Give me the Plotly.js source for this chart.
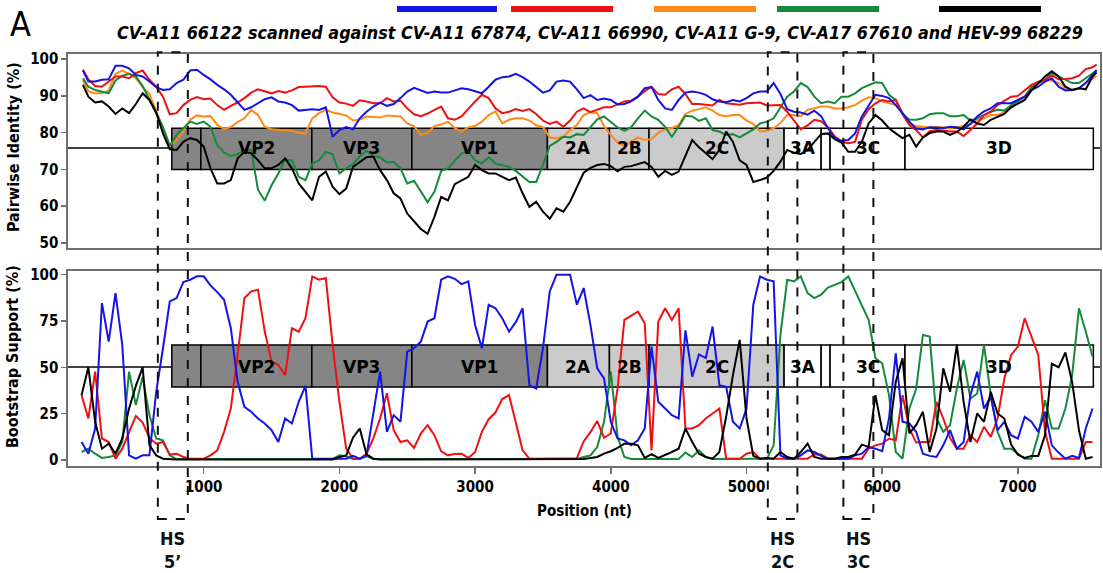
<!DOCTYPE html>
<html><head><meta charset="utf-8">
<script src="https://cdn.plot.ly/plotly-3.0.1.min.js"></script>
<style>html,body{margin:0;padding:0;background:#fff;}#chart{width:1103px;height:573px;}</style>
</head><body><div id="chart"></div>
<script>
// ---------- series ----------
const seriesNames = ['CV-A11 67874', 'CV-A11 66990', 'CV-A11 G-9', 'CV-A17 67610', 'HEV-99 68229'];
const seriesColors = ['#1414e6', '#ee1111', '#ff8a14', '#158a3c', '#000000'];

// Pairwise identity (%) – top panel
const identityPos = [110,150,200,250,300,350,400,450,500,550,600,650,700,750,800,850,900,950,
  1000,1050,1100,1150,1200,1250,1300,1350,1400,1450,1500,1550,1600,1650,1700,1750,1800,1850,1900,1950,
  2000,2050,2100,2150,2200,2250,2300,2350,2400,2450,2500,2550,2600,2650,2700,2750,2800,2850,2900,2950,
  3000,3050,3100,3150,3200,3250,3300,3350,3400,3450,3500,3550,3600,3650,3700,3750,3800,3850,3900,3950,
  4000,4050,4100,4150,4200,4250,4300,4350,4400,4450,4500,4550,4600,4650,4700,4750,4800,4850,4900,4950,
  5000,5050,5100,5150,5200,5250,5300,5350,5400,5450,5500,5550,5600,5650,5700,5750,5800,5850,5900,5950,
  6000,6050,6100,6150,6200,6250,6300,6350,6400,6450,6500,6550,6600,6650,6700,6750,6800,6850,6900,6950,
  7000,7050,7100,7150,7200,7250,7300,7350,7400,7450,7500,7550,7580];
const identityBlue = [96.9,93.9,93.9,94.4,94.5,98.2,98.2,97.5,95.7,95.3,93.9,92.4,91.6,91.8,93.5,94.4,96.9,97.1,
  95.7,94.5,93.0,91.8,90.3,88.2,86.2,86.9,88.0,89.1,89.6,88.5,88.2,87.5,86.0,86.2,86.4,86.2,86.9,78.9,
  80.7,81.5,80.9,83.9,85.7,87.1,88.2,87.3,87.8,89.4,91.2,92.2,91.6,90.8,91.2,90.9,90.9,91.6,92.1,91.8,
  91.2,90.7,92.5,94.4,95.1,95.3,96.0,95.1,93.9,92.4,90.9,91.5,93.9,94.2,93.9,91.8,89.4,90.2,88.9,89.3,
  88.9,87.7,87.8,88.5,89.8,92.1,92.4,88.9,86.6,86.2,88.9,90.9,91.2,90.9,90.3,89.1,88.5,88.3,88.9,88.5,
  89.4,90.7,91.2,91.2,93.5,90.5,86.4,85.7,85.5,84.9,86.0,84.5,81.2,78.6,77.8,78.0,79.8,84.4,87.5,90.3,
  90.0,89.4,87.5,85.1,83.0,81.1,80.9,81.5,81.5,81.3,81.6,81.5,80.9,82.4,84.4,85.8,86.6,88.0,88.0,88.0,
  88.9,89.8,91.6,92.5,93.9,94.8,92.5,91.5,91.6,92.1,93.5,95.7,97.1];
const identityRed = [97.1,94.5,92.7,92.5,93.9,95.3,95.3,94.8,96.2,96.9,94.4,92.5,89.8,85.0,85.3,87.5,88.9,89.7,
  89.1,89.3,87.5,86.2,87.3,88.2,89.4,90.9,91.8,91.2,90.7,91.3,90.9,91.5,92.4,92.5,92.7,92.7,92.5,89.6,
  88.2,87.9,87.3,88.8,88.5,88.0,88.0,89.4,88.5,88.7,86.6,85.0,84.5,85.2,86.2,87.1,83.9,83.5,84.4,86.6,
  88.5,90.3,89.4,86.6,85.3,85.7,86.4,85.9,86.4,85.1,83.3,82.4,83.0,81.6,83.3,85.7,86.6,85.6,86.2,86.9,
  86.9,87.8,88.5,88.7,89.8,91.3,92.5,90.5,90.3,91.8,92.5,90.5,87.8,87.8,87.5,87.4,88.9,88.0,87.8,87.6,
  88.0,88.0,88.2,87.4,87.5,87.5,85.7,83.4,80.9,82.0,83.5,83.1,81.5,79.0,77.5,77.1,77.5,83.5,86.4,88.0,
  88.9,88.5,88.9,85.0,82.1,80.7,78.7,80.4,80.7,80.6,80.3,80.3,79.1,80.7,82.5,84.7,85.7,87.5,88.7,89.8,
  90.0,91.4,93.0,93.9,94.4,95.6,94.5,94.6,94.8,95.5,97.3,97.8,98.5];
const identityOrange = [94.4,91.2,90.7,90.7,91.5,96.0,96.9,96.0,94.8,92.4,90.5,85.7,81.2,76.6,78.0,80.5,83.5,84.7,
  84.4,84.5,82.1,81.0,81.5,82.9,83.9,86.2,84.8,81.6,80.9,80.7,80.7,80.5,80.0,79.8,83.9,85.3,86.2,85.5,
  85.1,84.7,83.3,83.5,84.4,84.2,84.1,84.7,84.5,84.4,82.5,81.8,79.4,80.0,81.8,82.2,83.0,81.2,80.3,81.5,
  81.8,83.0,84.8,85.8,82.5,83.5,83.9,83.9,83.3,82.0,81.5,78.7,78.5,78.9,80.7,82.1,84.8,85.6,85.3,81.8,
  79.4,77.3,76.4,77.5,78.7,78.0,78.2,80.0,80.9,81.2,82.1,85.1,86.0,86.4,86.9,86.0,84.8,84.5,84.8,84.8,
  83.3,82.4,80.3,80.5,81.2,82.6,84.8,84.8,84.5,86.2,86.6,87.1,87.1,86.6,86.6,86.9,87.5,88.7,89.6,89.4,
  88.5,88.0,87.5,85.5,82.4,81.8,81.5,81.4,81.6,81.4,81.2,81.5,81.8,82.2,83.5,83.9,84.8,84.8,85.5,87.3,
  88.9,89.8,92.1,93.5,94.4,94.1,93.5,92.2,91.5,92.0,93.7,94.7,95.5];
const identityGreen = [94.8,92.5,91.6,91.2,90.7,94.2,95.5,96.0,95.3,92.7,88.9,85.3,81.6,76.4,79.4,81.2,83.0,82.4,
  83.0,81.6,76.6,74.6,73.6,74.2,75.3,75.3,64.5,61.5,65.7,68.9,72.7,72.5,68.0,67.1,71.6,72.5,74.8,74.1,
  68.9,70.3,71.5,73.5,75.1,73.6,73.3,71.9,72.1,70.3,66.2,66.9,63.9,61.1,63.9,69.6,70.3,72.5,74.4,74.8,
  72.5,71.6,73.3,71.6,71.2,70.7,69.6,68.0,66.6,66.6,71.2,76.4,77.5,78.9,78.7,79.6,79.4,81.5,83.6,84.4,
  83.0,81.4,80.5,81.5,83.9,86.0,84.4,83.5,81.6,78.9,81.6,84.6,84.4,83.2,83.9,80.7,80.3,79.4,79.6,78.7,
  79.8,80.9,82.5,83.0,83.9,87.0,89.8,91.2,93.5,92.4,89.8,88.0,88.5,88.0,89.8,89.8,90.7,92.1,93.0,93.7,
  93.5,90.3,88.9,85.1,83.6,83.5,83.9,85.0,85.3,85.3,84.5,84.5,84.8,83.3,83.9,84.8,85.7,86.2,86.0,87.5,
  88.5,89.8,92.4,93.5,94.4,96.2,95.3,94.4,93.5,93.5,94.8,96.0,96.9];
const identityBlack = [93.0,89.8,88.2,88.5,87.1,85.1,86.6,85.3,87.8,90.7,88.9,85.5,79.8,75.5,75.3,77.5,78.5,78.0,
  76.2,70.3,66.2,66.2,67.1,73.0,74.8,74.4,72.5,70.3,70.3,71.2,73.0,70.3,66.2,63.9,61.6,68.0,69.4,65.3,
  63.3,64.8,70.7,72.0,73.3,73.5,69.8,67.1,63.5,62.1,58.0,55.9,53.8,52.5,57.1,62.5,61.6,66.0,67.1,68.0,
  71.2,69.8,68.9,68.9,68.0,67.1,67.8,63.5,59.8,61.2,58.5,56.6,59.4,58.5,61.2,65.3,69.1,70.4,71.2,71.5,
  70.9,69.5,70.7,70.9,71.4,72.0,70.7,68.0,69.6,68.5,69.4,73.6,78.0,76.0,74.4,72.8,75.3,80.3,77.5,72.5,
  71.2,66.6,67.1,67.8,69.6,72.1,75.3,74.5,74.2,75.3,77.5,79.6,79.8,78.2,77.3,74.8,74.8,77.5,82.5,84.8,
  83.3,81.2,79.8,78.5,79.4,76.2,78.7,79.9,80.3,80.3,79.4,80.2,81.6,83.6,82.5,82.1,83.5,84.4,85.1,86.9,
  88.0,88.9,91.5,93.5,95.3,96.7,95.3,92.5,91.6,92.1,91.8,95.3,96.4];

// Bootstrap support (%) – bottom panel
const bootPos = [100,150,200,250,300,350,400,450,500,550,600,650,700,750,800,850,900,950,
  1000,1050,1100,1150,1200,1250,1300,1350,1400,1450,1500,1550,1600,1650,1700,1750,1800,1850,1900,1950,
  2000,2050,2100,2150,2200,2250,2300,2350,2400,2450,2500,2550,2600,2650,2700,2750,2800,2850,2900,2950,
  3000,3050,3100,3150,3200,3250,3300,3350,3400,3450,3500,3550,3600,3650,3700,3750,3800,3850,3900,3950,
  4000,4050,4100,4150,4200,4250,4300,4350,4400,4450,4500,4550,4600,4650,4700,4750,4800,4850,4900,4950,
  5000,5050,5100,5150,5200,5250,5300,5350,5400,5450,5500,5550,5600,5650,5700,5750,5800,5850,5900,5950,
  6000,6050,6100,6150,6200,6250,6300,6350,6400,6450,6500,6550,6600,6650,6700,6750,6800,6850,6900,6950,
  7000,7050,7100,7150,7200,7250,7300,7350,7400,7450,7500,7550];
const bootBlue = [9.7,3.4,17,84.7,63.9,90.1,62.1,2.5,0.7,2.5,2.5,36.8,60.3,85.6,87.4,96,97.3,99.1,
  99.1,94.2,90.6,86.5,71.1,42.2,28.7,26,22.4,19.7,16.1,9.7,22.4,19.7,31.4,40,0.7,0.7,0.7,0.7,
  0.7,0.7,2.2,0.7,2.5,26,47.7,15.2,24.2,20.6,58.5,60.3,63.9,74.7,76.5,97.3,99.1,97.8,94.9,96.4,
  72.9,60.3,83.8,81.9,76.5,69.3,74.4,81.9,40.4,38.6,60.3,91,100,100,100,83.8,92.8,72.9,49.5,44,
  20.6,11.6,10.6,7.9,10.6,17,61.2,31.4,27.8,24.2,22.4,70,45,57,55,72,40.4,39.5,20.6,17,
  27.8,83.8,99.1,97.3,96.4,2.5,0.7,0.7,2.5,5.2,4.3,2.2,0.7,0.7,0.7,0.7,2.5,3.4,7,6.1,
  4.7,22.4,57.6,20.6,19.7,15.2,3.4,2.2,1.6,7.9,16.1,6.1,9.7,35,47.7,27.8,34.1,16.1,20.6,13.4,
  11.6,23.3,20.6,15.2,26,7.9,4,0.7,2.2,1.1,17,27.8];
const bootRed = [35,22.4,47.7,11.6,9.7,0.7,6.1,15.2,23.8,20.2,11.9,8.8,9.7,2.9,3.4,1.6,0.7,0.7,
  0.7,2.5,5.2,15.2,27.8,56.7,87.4,91,91.9,69.3,53.1,51.3,45.8,71.1,69.3,76.5,99.1,97.3,98.2,62.1,
  31.4,6.1,0.7,0.7,3.4,11.6,22.4,36,16.1,9.7,10.6,6.5,14.3,18.8,13.4,4.7,2.5,3.2,3.4,1.1,
  4.3,15.2,22,25.6,32.9,35,19.7,5.2,0.7,0.7,0.7,0.7,0.7,0.7,0.7,1,10,15,21,12,
  14.3,38.6,75.6,78,80.1,73.8,5.2,74.7,81.9,75.6,81.9,17,17,18.8,22.4,25.1,27.8,0.7,0.7,0.7,
  3.4,4.3,0.7,0.7,0.7,0.7,0.7,0.7,0.7,0.7,3,2.9,0.7,0.7,0.7,0.7,0.7,0.7,6.1,7.9,
  8.8,11.6,10.6,35,17,9.4,9.7,9.7,31.4,22.4,11.9,6.1,6.1,13.4,9.7,17.9,12.5,22.4,44,56.7,
  61.2,76.5,66.6,56.7,15.2,0.7,0.7,0.7,1.1,0.7,9.7,9.7];
const bootGreen = [4.3,6.1,3.4,1.1,1.6,2.5,9.7,47.7,29.6,45,24.2,11.6,10.6,2.5,0.5,0.5,0.5,0.5,
  0.5,0.5,0.5,0.5,0.5,0.5,0.5,0.5,0.5,0.5,0.5,0.5,0.5,0.5,0.5,0.5,0.5,0.5,0.5,0.5,
  2.5,2,0.5,0.5,2,0.5,0.5,0.5,0.5,0.5,0.5,0.5,0.5,0.5,0.5,0.5,0.5,0.5,0.5,0.5,
  0.5,0.5,0.5,0.5,0.5,0.5,0.5,0.5,0.5,0.5,0.5,0.5,0.5,0.5,0.5,0.5,1.6,2.5,7,20.6,
  47.7,12.5,1.6,0.5,0.5,0.5,0.5,0.5,0.5,0.5,0.5,4,1.6,5.2,1.6,0.5,0.5,0.5,0.5,0.5,
  0.5,0.5,0.5,0.7,7.9,67.5,97.3,96.4,99.1,90.1,87.4,89.2,93.1,94.6,96,99.1,91,82.9,75.6,54.9,
  52.2,35,4.3,0.7,27.8,38.3,67.5,66.6,22.4,15.2,18.8,38.6,54,33.2,35.9,62.1,35,15.2,6.1,6.1,
  3.4,0.7,0.7,13.4,32.3,17,17,27.8,45.8,81.9,69.3,55.8];
const bootBlack = [35,50,20.6,6.1,8.8,3.4,11.6,27.8,40,50,8,2.5,0.7,0.3,0.3,0.3,0.3,0.3,
  0.3,0.3,0.3,0.3,0.3,0.3,0.3,0.3,0.3,0.3,0.3,0.3,0.3,0.3,0.3,0.3,0.3,0.3,0.3,0.3,
  1.6,2.5,12,17,3,0.7,0.3,0.3,0.3,0.3,0.3,0.3,0.3,0.3,0.3,0.3,0.3,0.3,0.3,0.3,
  0.3,0.3,0.3,0.3,0.3,0.3,0.3,0.3,0.3,0.3,0.3,0.3,0.3,0.3,0.3,0.3,0.5,1.1,1.6,3.4,
  4.7,6.5,8.8,8.8,7.9,1.1,3.1,1.1,2.5,4.3,6.1,17,9.7,3.4,1.6,0.7,4.3,23.3,45.8,64.8,
  22.4,2.2,0.7,1.1,0.7,4.3,1.6,0.7,4.3,8.8,1.6,0.7,0.7,0.7,1.6,1.6,2.9,8.3,7,35,
  16.1,13.4,42.2,54.9,14.3,18.8,26,4.3,17,49.5,36.8,62.1,31.4,9.7,25.1,20.6,36.8,25.1,22.4,8.3,
  2.9,1.1,2.2,2.2,13.4,52,50,58,42,16,0.7,1.6];

// Genome map
const geneNames  = ['VP4','VP2','VP3','VP1','2A','2B','2C','3A','3B','3C','3D'];
const geneLabels = ['','VP2','VP3','VP1','2A','2B','2C','3A','','3C','3D'];
const geneStart  = [765,979,1797,2534,3533,3990,4282,5277,5550,5616,6168];
const geneEnd    = [979,1797,2534,3533,3990,4282,5277,5550,5616,6168,7556];
const geneRegion = ['P1','P1','P1','P1','P2','P2','P2','P3','P3','P3','P3'];

// Hot-spot windows
const hsStart  = [662,5157,5714];
const hsEnd    = [883,5375,5935];
const hsLabels = ['HS<br>5’','HS<br>2C','HS<br>3C'];

const titleText = 'CV-A11 66122 scanned against CV-A11 67874, CV-A11 66990, CV-A11 G-9, CV-A17 67610 and HEV-99 68229';

// ---------- build ----------
const COND = '"DejaVu Sans Condensed", "Liberation Sans Narrow", "DejaVu Sans", sans-serif';
const idSeries = [identityBlue, identityRed, identityOrange, identityGreen, identityBlack];
const bsSeries = [bootBlue, bootRed, null, bootGreen, bootBlack];
const drawOrder = [2, 3, 1, 0, 4];

const traces = [];
drawOrder.forEach(i => {
  traces.push({x: identityPos, y: idSeries[i], type: 'scatter', mode: 'lines', name: seriesNames[i],
    xaxis: 'x', yaxis: 'y', line: {color: seriesColors[i], width: 2}, showlegend: false, hoverinfo: 'skip'});
});
drawOrder.forEach(i => {
  if (!bsSeries[i]) return;
  traces.push({x: bootPos, y: bsSeries[i], type: 'scatter', mode: 'lines', name: seriesNames[i],
    xaxis: 'x2', yaxis: 'y2', line: {color: seriesColors[i], width: 2}, showlegend: false, hoverinfo: 'skip'});
});

const regionFill = {P1: '#858585', P2: '#cbcbcb', P3: '#ffffff'};
const shapes = [];
const annotations = [];
const panels = [
  {yref: 'y', mid: 75.8, lo: 70.0, hi: 81.2},
  {yref: 'y2', mid: 50.2, lo: 39.4, hi: 62.1}
];
panels.forEach(p => {
  shapes.push({type: 'line', xref: 'paper', yref: p.yref, x0: 0, x1: 1, y0: p.mid, y1: p.mid,
    line: {color: '#000', width: 1.5}, layer: 'below'});
  geneNames.forEach((g, k) => {
    shapes.push({type: 'rect', xref: 'x', yref: p.yref, x0: geneStart[k], x1: geneEnd[k], y0: p.lo, y1: p.hi,
      fillcolor: regionFill[geneRegion[k]], line: {color: '#000', width: 1.5}, layer: 'below'});
    if (geneLabels[k]) {
      annotations.push({xref: 'x', yref: p.yref, x: (geneStart[k] + geneEnd[k]) / 2, y: p.mid,
        text: geneLabels[k], showarrow: false, xanchor: 'center', yanchor: 'middle',
        font: {family: '"DejaVu Sans", sans-serif', size: 17, color: '#000', weight: 'bold'}});
    }
  });
});
hsStart.forEach((s, k) => {
  shapes.push({type: 'rect', xref: 'x', yref: 'paper', x0: s, x1: hsEnd[k], y0: -0.1286, y1: 1.004,
    line: {color: '#111', width: 2, dash: 'dash'}, fillcolor: 'rgba(0,0,0,0)'});
  annotations.push({xref: 'x', yref: 'paper', x: (s + hsEnd[k]) / 2, y: -0.2027, text: hsLabels[k],
    showarrow: false, xanchor: 'center', yanchor: 'middle', align: 'center',
    font: {family: COND, size: 18, color: '#111', weight: 'bold'}});
});
const legendPx = [[397,497],[511,613],[654,756],[777,879],[939,1041]];
legendPx.forEach((p, i) => {
  shapes.push({type: 'line', xref: 'paper', yref: 'paper', x0: (p[0] - 68) / 1032, x1: (p[1] - 68) / 1032,
    y0: 1.109, y1: 1.109, line: {color: seriesColors[i], width: 6}});
});
annotations.push({xref: 'paper', yref: 'paper', x: 0.5155, y: 1.051, text: titleText, showarrow: false,
  xanchor: 'center', yanchor: 'middle', font: {family: COND, size: 17.8, color: '#000', weight: 'bold', style: 'italic'}});
annotations.push({xref: 'paper', yref: 'paper', x: -0.0465, y: 1.072, text: 'A', showarrow: false,
  xanchor: 'center', yanchor: 'middle', font: {family: COND, size: 34, color: '#000'}});
annotations.push({xref: 'paper', yref: 'paper', x: -0.053, y: 0.775, text: 'Pairwise Identity (%)', showarrow: false,
  textangle: -90, xanchor: 'center', yanchor: 'middle', font: {family: COND, size: 16, color: '#000', weight: 'bold'}});
annotations.push({xref: 'paper', yref: 'paper', x: -0.053, y: 0.265, text: 'Bootstrap Support (%)', showarrow: false,
  textangle: -90, xanchor: 'center', yanchor: 'middle', font: {family: COND, size: 16, color: '#000', weight: 'bold'}});
annotations.push({xref: 'paper', yref: 'paper', x: 0.5, y: -0.109, text: 'Position (nt)', showarrow: false,
  xanchor: 'center', yanchor: 'middle', font: {family: COND, size: 15, color: '#000', weight: 'bold'}});

const tickFont = {family: COND, size: 15, color: '#000', weight: 'bold'};
const axisCommon = {showline: true, mirror: true, linecolor: '#707070', linewidth: 1.6, showgrid: false, zeroline: false};
const layout = {
  width: 1103, height: 573,
  margin: {l: 68, r: 3, t: 54, b: 107, pad: 0},
  paper_bgcolor: '#fff', plot_bgcolor: '#fff',
  showlegend: false,
  xaxis: Object.assign({}, axisCommon, {domain: [0, 1], range: [0, 7605], anchor: 'y', showticklabels: false, ticks: ''}),
  yaxis: Object.assign({}, axisCommon, {domain: [0.528, 1], range: [48.5, 101.4], anchor: 'x',
    tickvals: [50, 60, 70, 80, 90, 100], ticks: 'outside', ticklen: 5, tickwidth: 1.5, tickcolor: '#707070', tickfont: tickFont}),
  xaxis2: Object.assign({}, axisCommon, {domain: [0, 1], range: [0, 7605], anchor: 'y2', matches: 'x',
    tickvals: [1000, 2000, 3000, 4000, 5000, 6000, 7000], ticks: 'outside', ticklen: 6, tickwidth: 1.5, tickcolor: '#707070', tickfont: tickFont}),
  yaxis2: Object.assign({}, axisCommon, {domain: [0, 0.4733], range: [-3.25, 102], anchor: 'x2',
    tickvals: [0, 25, 50, 75, 100], ticks: 'outside', ticklen: 5, tickwidth: 1.5, tickcolor: '#707070', tickfont: tickFont}),
  shapes: shapes,
  annotations: annotations
};
Plotly.newPlot('chart', traces, layout, {displayModeBar: false, staticPlot: true});
</script>
</body></html>
